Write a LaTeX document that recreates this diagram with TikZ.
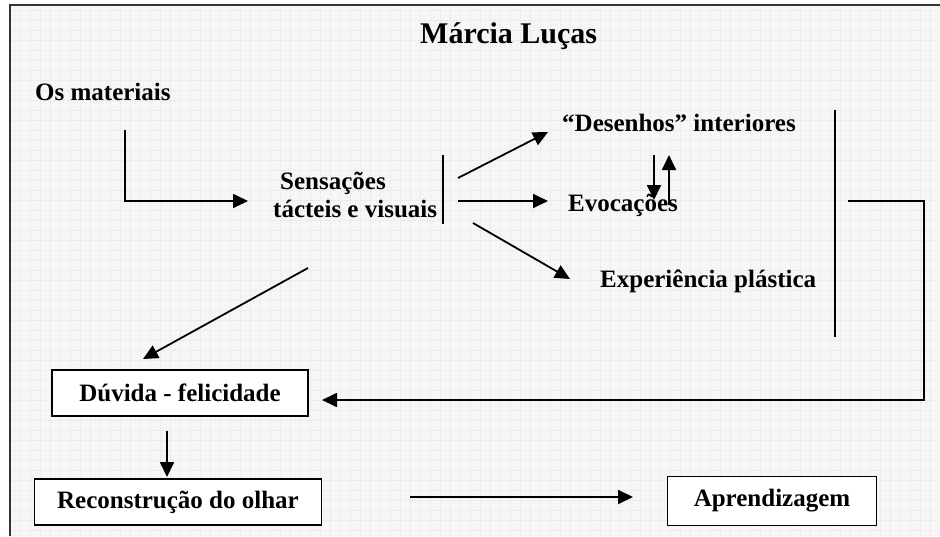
\documentclass[tikz,border=0pt]{standalone}
\usepackage{fontspec}
\setmainfont{Liberation Serif}
\usetikzlibrary{arrows.meta}

\begin{document}
\begin{tikzpicture}[x=1pt, y=-1pt,
    txt/.style={inner sep=0, anchor=base west, font=\fontsize{25}{30}\selectfont\bfseries},
    box/.style={draw, line width=1.8pt, fill=white, inner sep=0, font=\fontsize{25}{30}\selectfont\bfseries},
    arr/.style={line width=1.8pt, -{Triangle[length=15pt, width=14pt]}},
    bar/.style={line width=1.5pt}]
  \useasboundingbox (0, 0) rectangle (940, 536);
  \fill [gray!7] (10, 5) rectangle (940, 536);
  \draw [gray!15, line width=0.5pt, step=10pt] (10, 5) grid (940, 536);
  \draw [line width=2pt, black!80] (10, 536) -- (10, 5) -- (940, 5);

  \node [txt, font=\fontsize{30}{36}\selectfont\bfseries] (title) at (420, 43) {Márcia Luças};
  \node [txt] (mat) at (35, 100) {Os materiais};
  \node [txt] (sens) at (280, 189) {Sensações};
  \node [txt] (tact) at (273, 217) {tácteis e visuais};
  \node [txt] (des) at (562, 131) {“Desenhos” interiores};
  \node [txt] (evo) at (568, 211) {Evocações};
  \node [txt] (exp) at (600, 287) {Experiência plástica};
  \node [box, minimum width=256, minimum height=46] (duv) at (180, 393) {Dúvida - felicidade};
  \node [box, minimum width=287, minimum height=46] (rec) at (178, 502) {Reconstrução do olhar};
  \node [box, minimum width=209, minimum height=49] (apr) at (772, 501) {Aprendizagem};

  \draw [bar] (443, 155) -- (443, 224);
  \draw [bar] (835, 110) -- (835, 337);

  \coordinate (matout) at (125, 130);
  \coordinate (sensin) at (248, 201);
  \coordinate (sensup) at (458, 178);
  \coordinate (sensmid) at (458, 201);
  \coordinate (senslow) at (473, 223);
  \coordinate (sensdown) at (308, 268);
  \coordinate (desin) at (548, 132);
  \coordinate (evoin) at (548, 201);
  \coordinate (expin) at (570, 279);
  \coordinate (desdown) at (654, 155);
  \coordinate (evoup) at (654, 200);
  \coordinate (evoout) at (669, 205);
  \coordinate (desback) at (669, 155);
  \coordinate (bigout) at (848, 201);
  \coordinate (backcorner) at (924, 400);
  \coordinate (duvin) at (322, 400);
  \coordinate (duvtop) at (143, 359);
  \coordinate (duvout) at (167, 431);
  \coordinate (recin) at (167, 477);
  \coordinate (recout) at (410, 497);
  \coordinate (aprin) at (633, 497);

  \draw [arr] (matout) |- (sensin);
  \draw [arr] (sensup) -- (desin);
  \draw [arr] (sensmid) -- (evoin);
  \draw [arr] (senslow) -- (expin);
  \draw [arr] (desdown) -- (evoup);
  \draw [arr] (evoout) -- (desback);
  \draw [arr] (bigout) -| (backcorner) -- (duvin);
  \draw [arr] (sensdown) -- (duvtop);
  \draw [arr] (duvout) -- (recin);
  \draw [arr] (recout) -- (aprin);
\end{tikzpicture}
\end{document}
